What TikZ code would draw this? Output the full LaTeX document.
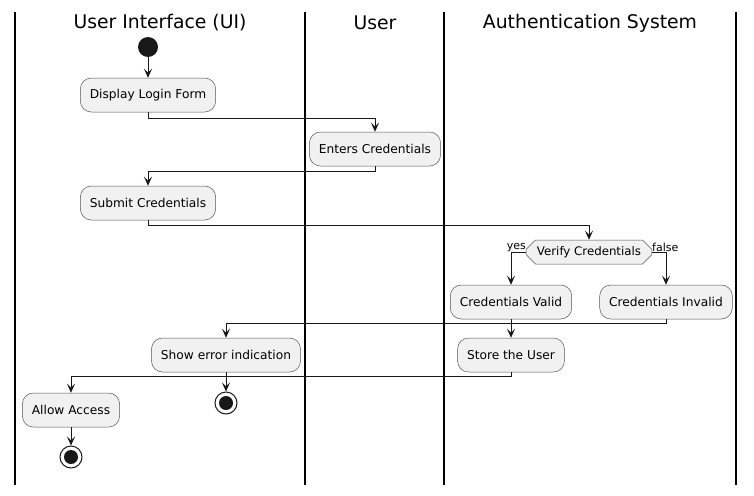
\documentclass[tikz,border=0pt]{standalone}
\usepackage{fontspec}
\setmainfont{DejaVu Sans}
\usetikzlibrary{arrows.meta,shapes.geometric,shapes.misc}
\definecolor{boxfill}{HTML}{F1F1F1}
\definecolor{boxline}{HTML}{555555}
\definecolor{ink}{HTML}{181818}
\begin{document}
\begin{tikzpicture}[x=1pt,y=-1pt,
  act/.style={draw=boxline,fill=boxfill,rounded corners=11pt,line width=0.5pt,
    minimum height=34pt,inner xsep=9.5pt,font=\fontsize{12.2}{14}\selectfont,anchor=center},
  dec/.style={draw=boxline,fill=boxfill,chamfered rectangle,chamfered rectangle xsep=12pt,
    chamfered rectangle angle=45,line width=0.5pt,minimum height=24pt,inner xsep=5pt,inner ysep=0pt,
    font=\fontsize{11.8}{13}\selectfont},
  flow/.style={draw=ink,line width=1pt,-{Stealth[length=9pt,width=8pt,inset=4pt]}},
  lane/.style={draw=black,line width=1.2pt},
  head/.style={font=\fontsize{18.8}{22}\selectfont},
  lbl/.style={font=\fontsize{11}{13}\selectfont,inner sep=0pt},
  startc/.style={circle,fill=ink,minimum size=20pt,inner sep=0pt},
  endc/.style={circle,draw=ink,line width=1pt,fill=white,minimum size=22pt,inner sep=0pt,
    path picture={\fill[ink] (path picture bounding box.center) circle (7pt);}}
]
\useasboundingbox (0,0) rectangle (754,495);
\fill[white] (0,0) rectangle (754,495);
% lanes
\draw[lane] (15,12) -- (15,485);
\draw[lane] (305,12) -- (305,485);
\draw[lane] (444,12) -- (444,485);
\draw[lane] (736,12) -- (736,485);
\node[head] (h1) at (160,23) {User Interface (UI)};
\node[head] (h2) at (375,23) {User};
\node[head] (h3) at (590,23) {Authentication System};
% nodes
\node[startc] (start) at (148,47) {};
\node[act] (disp) at (148,95) {Display Login Form};
\node[act] (enter) at (375,149) {Enters Credentials};
\node[act] (submit) at (148,203) {Submit Credentials};
\node[dec] (verify) at (589,252) {Verify Credentials};
\node[act] (valid) at (511,302) {Credentials Valid};
\node[act] (invalid) at (666,302) {Credentials Invalid};
\node[act] (store) at (511,355) {Store the User};
\node[act] (err) at (226,355) {Show error indication};
\node[endc] (end1) at (226,403) {};
\node[act] (allow) at (71,410) {Allow Access};
\node[endc] (end2) at (71,457) {};
\node[lbl,anchor=south east] (yes) at (verify.west) {yes};
\node[lbl,anchor=south west] (no) at (verify.east) {false};
% flows
\draw[flow] (start) -- (disp);
\draw[flow] (disp.south) -- ++(0,6) -| (enter.north);
\draw[flow] (enter.south) -- ++(0,5) -| (submit.north);
\draw[flow] (submit.south) -- ++(0,5) -| (verify.north);
\draw[flow] (verify.west) -| (valid.north);
\draw[flow] (verify.east) -| (invalid.north);
\draw[flow] (valid.south) -- (store.north);
\draw[flow] (invalid.south) -- ++(0,4) -| (err.north);
\draw[flow] (store.south) -- ++(0,4) -| (allow.north);
\draw[flow] (err.south) -- (end1);
\draw[flow] (allow.south) -- (end2);
\end{tikzpicture}
\end{document}
